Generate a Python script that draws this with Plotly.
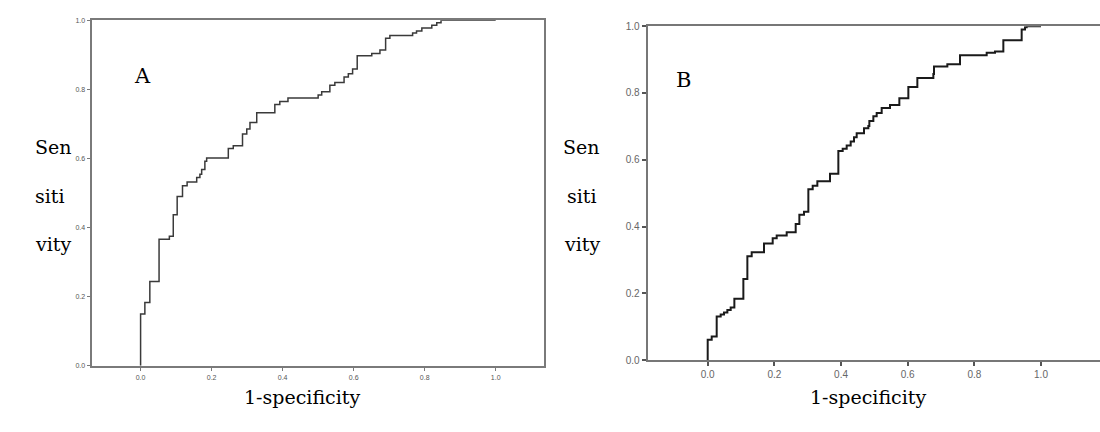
import plotly.graph_objects as go

# ---------------- data ----------------
# Panel A ROC corner points (1-specificity, sensitivity)
fpr_a = [0.0, 0.0, 0.012, 0.026, 0.052, 0.081, 0.092, 0.103, 0.118, 0.131, 0.158,
         0.167, 0.172, 0.181, 0.186, 0.247, 0.261, 0.287, 0.299, 0.308, 0.327,
         0.378, 0.392, 0.415, 0.500, 0.510, 0.533, 0.547, 0.573, 0.585, 0.597,
         0.610, 0.651, 0.674, 0.690, 0.702, 0.766, 0.777, 0.792, 0.820, 0.834,
         0.846, 1.0]
tpr_a = [0.0, 0.150, 0.183, 0.244, 0.366, 0.375, 0.437, 0.490, 0.521, 0.532, 0.545,
         0.554, 0.568, 0.592, 0.601, 0.629, 0.637, 0.671, 0.685, 0.704, 0.732,
         0.756, 0.765, 0.775, 0.784, 0.793, 0.812, 0.820, 0.836, 0.845, 0.859,
         0.897, 0.904, 0.914, 0.948, 0.956, 0.963, 0.969, 0.978, 0.986, 0.993,
         1.0, 1.0]

# Panel B ROC corner points
fpr_b = [0.0, 0.0, 0.012, 0.027, 0.039, 0.049, 0.059, 0.069, 0.080, 0.107, 0.119,
         0.132, 0.169, 0.195, 0.207, 0.237, 0.264, 0.275, 0.289, 0.302, 0.315,
         0.329, 0.367, 0.392, 0.405, 0.417, 0.429, 0.439, 0.447, 0.469, 0.482,
         0.485, 0.497, 0.507, 0.522, 0.547, 0.575, 0.602, 0.629, 0.677, 0.679,
         0.719, 0.757, 0.837, 0.862, 0.887, 0.942, 0.952, 0.957, 1.0]
tpr_b = [0.0, 0.061, 0.071, 0.131, 0.137, 0.143, 0.150, 0.158, 0.184, 0.243, 0.311,
         0.323, 0.349, 0.365, 0.373, 0.383, 0.408, 0.435, 0.444, 0.512, 0.522,
         0.536, 0.558, 0.626, 0.633, 0.643, 0.655, 0.667, 0.679, 0.694, 0.701,
         0.716, 0.730, 0.740, 0.755, 0.764, 0.784, 0.818, 0.845, 0.857, 0.879,
         0.886, 0.913, 0.920, 0.924, 0.958, 0.990, 0.997, 1.0, 1.0]

tick_vals = [0.0, 0.2, 0.4, 0.6, 0.8, 1.0]
tick_text = ["0.0", "0.2", "0.4", "0.6", "0.8", "1.0"]
panel_labels = ["A", "B"]
ylabel_parts = ["Sen", "siti", "vity"]
xlabel = "1-specificity"

W, H = 1100, 432
SERIF = "DejaVu Serif"

fig = go.Figure()
fig.add_trace(go.Scatter(x=fpr_a, y=tpr_a, mode="lines", line_shape="hv",
                         line=dict(color="#3a3a3a", width=1.5),
                         xaxis="x", yaxis="y", showlegend=False, hoverinfo="skip"))
fig.add_trace(go.Scatter(x=fpr_b, y=tpr_b, mode="lines", line_shape="hv",
                         line=dict(color="#1a1a1a", width=2),
                         xaxis="x2", yaxis="y2", showlegend=False, hoverinfo="skip"))


def px_x(p):
    return p / W


def px_y(p):
    return 1 - p / H


ax_common = dict(showgrid=False, zeroline=False, ticks="outside", ticklen=4,
                 tickvals=tick_vals, ticktext=tick_text, fixedrange=True)

fig.update_layout(
    width=W, height=H,
    margin=dict(l=0, r=0, t=0, b=0),
    paper_bgcolor="white", plot_bgcolor="white",
    xaxis=dict(domain=[px_x(92.3), px_x(544)], range=[-0.136, 1.136],
               anchor="y", showline=True, mirror=True, linecolor="#7a7a7a", linewidth=1.5,
               tickcolor="#7a7a7a", tickwidth=1,
               tickfont=dict(family="Arial, Liberation Sans", size=7, color="#555"),
               **ax_common),
    yaxis=dict(domain=[px_y(370), px_y(14.7)], range=[0, 1],
               anchor="x", showline=True, mirror=True, linecolor="#7a7a7a", linewidth=1.5,
               tickcolor="#7a7a7a", tickwidth=1,
               tickfont=dict(family="Arial, Liberation Sans", size=7, color="#555"),
               **ax_common),
    xaxis2=dict(domain=[px_x(647.7), 1.0], range=[-0.18, 1.177],
                anchor="y2", showline=True, mirror=True, linecolor="#777", linewidth=2,
                tickcolor="#555", tickwidth=2,
                tickfont=dict(family="Arial, Liberation Sans", size=10, color="#666"),
                **ax_common),
    yaxis2=dict(domain=[px_y(364.3), px_y(20.7)], range=[0, 1],
                anchor="x2", showline=True, mirror=False, linecolor="#777", linewidth=2,
                tickcolor="#555", tickwidth=2,
                tickfont=dict(family="Arial, Liberation Sans", size=10, color="#666"),
                **ax_common),
)

annotations = []
# panel letters
annotations.append(dict(text=panel_labels[0], x=px_x(131.7), y=px_y(57.5), xref="paper", yref="paper",
                        showarrow=False, font=dict(family=SERIF, size=21, color="black")))
annotations.append(dict(text=panel_labels[1], x=px_x(683.3), y=px_y(62), xref="paper", yref="paper",
                        showarrow=False, font=dict(family=SERIF, size=21, color="black")))
# y-axis labels split over lines
for cx in (32.5, 581.5):
    for part, py in zip(ylabel_parts, (145, 195, 245)):
        annotations.append(dict(text=part, x=px_x(cx), y=px_y(py), xref="paper", yref="paper",
                                showarrow=False, font=dict(family=SERIF, size=19, color="black")))
# x-axis labels
for lx in (242, 808):
    annotations.append(dict(text=xlabel, x=px_x(lx), y=px_y(416), xref="paper", yref="paper",
                            xanchor="left", showarrow=False,
                            font=dict(family=SERIF, size=19, color="black")))
fig.update_layout(annotations=annotations)

fig.write_html("out.html")
